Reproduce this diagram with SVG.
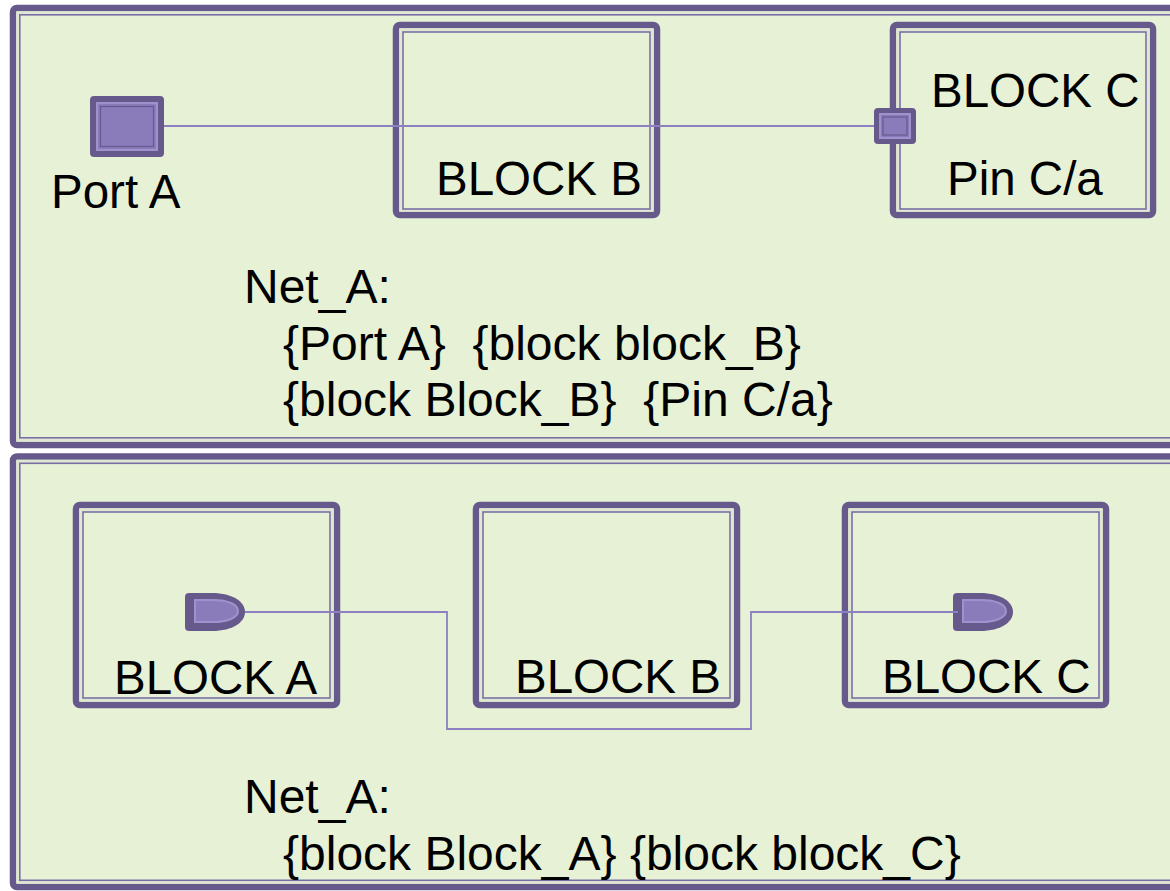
<svg xmlns="http://www.w3.org/2000/svg" width="1170" height="891" viewBox="0 0 1170 891">
  <style>
    .frame { fill: none; stroke: #655a8b; stroke-width: 6.5; }
    .gap { fill: none; stroke: #dfe7d2; stroke-width: 3; }
    .rule { fill: none; stroke: #7a6ea6; stroke-width: 1.6; }
    .panel { fill: #e6f1d6; }
    .pin-body { fill: #655a8b; }
    .pin-rim { fill: #8a7bbb; stroke: #9e92cc; stroke-width: 2; }
    .pin-core { fill: #8a7bbb; stroke: #655a8b; stroke-width: 1.2; }
    .wire { fill: none; stroke: #8c80c2; stroke-width: 1.8; }
    .lbl { font-family: "Liberation Sans", Arial, sans-serif; font-size: 47.5px; fill: #000; }
    .net { font-family: "Liberation Sans", Arial, sans-serif; font-size: 48px; fill: #000; }
  </style>

  <rect x="0" y="0" width="1170" height="891" fill="#ffffff"/>

  <!-- upper panel -->
  <g id="panel-top">
    <rect class="panel" x="13" y="8" width="1180" height="437" rx="4"/>
    <rect class="frame" x="13" y="8" width="1180" height="437" rx="4"/>
    <rect class="gap" x="17.8" y="12.8" width="1180" height="427.4"/>
    <rect class="rule" x="19.8" y="14.8" width="1180" height="423"/>
  </g>

  <!-- lower panel -->
  <g id="panel-bottom">
    <rect class="panel" x="13" y="456.5" width="1180" height="430.5" rx="4"/>
    <rect class="frame" x="13" y="456.5" width="1180" height="430.5" rx="4"/>
    <rect class="gap" x="17.8" y="461.3" width="1180" height="420.9"/>
    <rect class="rule" x="19.8" y="463.3" width="1180" height="417"/>
  </g>

  <!-- upper panel blocks -->
  <g id="top-block-b">
    <rect class="frame" x="396" y="25" width="261" height="190" rx="4"/>
    <rect class="gap" x="400.8" y="29.8" width="251.4" height="180.4"/>
    <rect class="rule" x="403" y="32" width="247" height="177"/>
    <text class="lbl" x="436" y="195">BLOCK B</text>
  </g>

  <g id="top-block-c">
    <rect class="frame" x="893" y="25" width="260" height="190" rx="4"/>
    <rect class="gap" x="897.8" y="29.8" width="250.4" height="180.4"/>
    <rect class="rule" x="900" y="32" width="246" height="177"/>
    <text class="lbl" x="931" y="107">BLOCK C</text>
    <text class="lbl" x="947" y="195">Pin C/a</text>
  </g>

  <g id="port-a">
    <rect class="pin-body" x="90" y="96" width="74" height="61" rx="4"/>
    <rect class="pin-rim" x="97" y="103" width="60" height="47"/>
    <rect class="pin-core" x="100.5" y="106.5" width="53" height="40"/>
    <text class="lbl" x="51" y="208">Port A</text>
  </g>

  <g id="pin-c-a">
    <rect class="pin-body" x="874" y="108" width="42" height="36" rx="4"/>
    <rect class="pin-rim" x="880" y="114" width="30" height="24"/>
    <rect class="pin-core" x="883" y="117" width="24" height="18"/>
  </g>

  <!-- lower panel blocks -->
  <g id="block-a">
    <rect class="frame" x="76" y="505" width="261" height="200" rx="4"/>
    <rect class="gap" x="80.8" y="509.8" width="251.4" height="190.4"/>
    <rect class="rule" x="83" y="512" width="247" height="186"/>
    <text class="lbl" x="114" y="694">BLOCK A</text>
    <path class="pin-body" d="M189,593 H212 C233,593 245,602 245,612 C245,622 233,631 212,631 H189 Q185,631 185,627 V597 Q185,593 189,593 Z"/>
    <path class="pin-rim" d="M195,600 H213 C229,600 238,605 238,611 C238,617 229,622 213,622 H195 Z"/>
  </g>

  <g id="bottom-block-b">
    <rect class="frame" x="476" y="505" width="261" height="200" rx="4"/>
    <rect class="gap" x="480.8" y="509.8" width="251.4" height="190.4"/>
    <rect class="rule" x="483" y="512" width="247" height="186"/>
    <text class="lbl" x="515" y="693">BLOCK B</text>
  </g>

  <g id="bottom-block-c">
    <rect class="frame" x="845" y="505" width="261" height="200" rx="4"/>
    <rect class="gap" x="849.8" y="509.8" width="251.4" height="190.4"/>
    <rect class="rule" x="852" y="512" width="247" height="186"/>
    <text class="lbl" x="882" y="693">BLOCK C</text>
    <path class="pin-body" d="M957,593 H980 C1001,593 1013,602 1013,612 C1013,622 1001,631 980,631 H957 Q953,631 953,627 V597 Q953,593 957,593 Z"/>
    <path class="pin-rim" d="M963,600 H981 C997,600 1006,605 1006,611 C1006,617 997,622 981,622 H963 Z"/>
  </g>

  <!-- connectors -->
  <g id="connectors">
    <path class="wire" d="M164,126 H874"/>
    <path class="wire" d="M245,612 H447 V729 H751 V612 H958"/>
  </g>

  <!-- net listings -->
  <g id="net-top">
    <text class="net" x="244" y="303">Net_A:</text>
    <text class="net" x="283" y="360" xml:space="preserve">{Port A}  {block block_B}</text>
    <text class="net" x="283" y="416" xml:space="preserve">{block Block_B}  {Pin C/a}</text>
  </g>

  <g id="net-bottom">
    <text class="net" x="244" y="813">Net_A:</text>
    <text class="net" x="283" y="870">{block Block_A} {block block_C}</text>
  </g>
</svg>
